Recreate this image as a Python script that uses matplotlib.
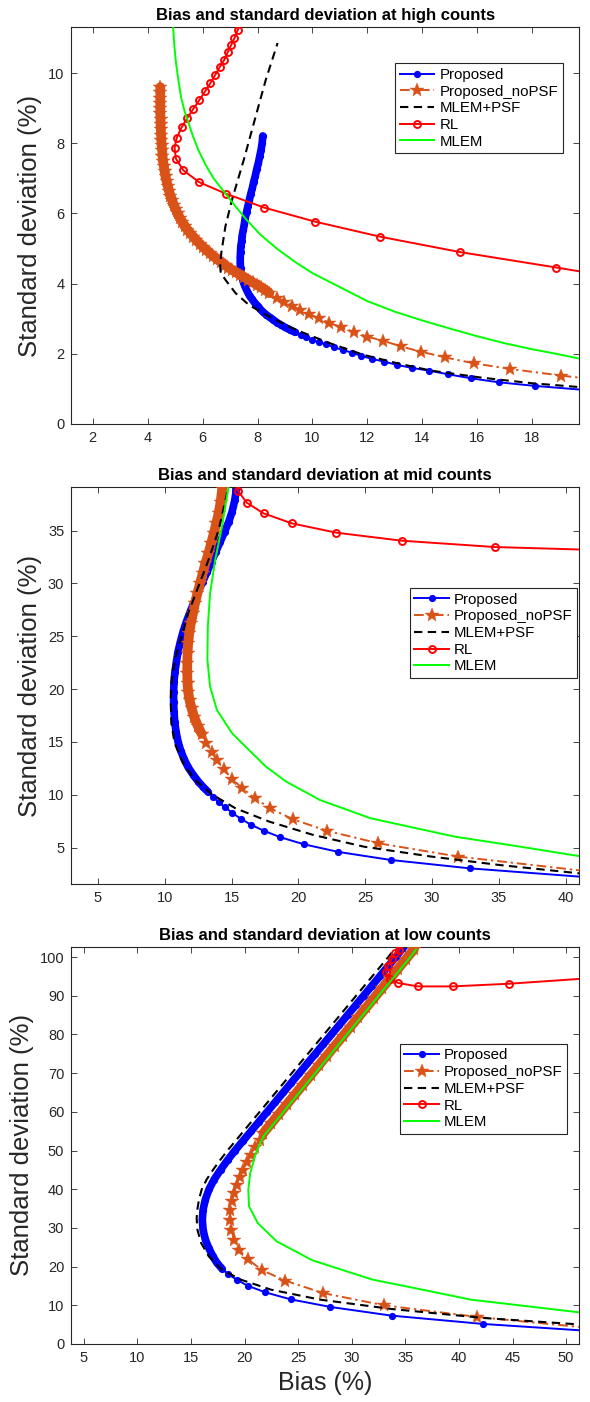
import matplotlib
matplotlib.use('Agg')
import matplotlib.pyplot as plt

plt.rcParams['font.family'] = ['Liberation Sans', 'DejaVu Sans']

# ---- high counts ----
hi_prop_bias = [21.0, 18.11, 16.78, 15.76, 14.94, 14.24, 13.62, 13.09, 12.60, 12.17,
                11.78, 11.43, 11.10, 10.78, 10.51, 10.24, 10.00, 9.78, 9.57, 9.37,
                9.19, 9.01, 8.86, 8.71, 8.57, 8.44, 8.31, 8.20, 8.09, 8.00,
                7.90, 7.81, 7.72, 7.65, 7.59, 7.53, 7.48, 7.44, 7.41, 7.38,
                7.37, 7.37, 7.38, 7.39, 7.42, 7.44, 7.48, 7.52, 7.55, 7.60,
                7.65, 7.70, 7.75, 7.81, 7.86, 7.92, 7.97, 8.03, 8.08, 8.13,
                8.17, 8.19]
hi_prop_std = [0.90, 1.084, 1.188, 1.302, 1.416, 1.521, 1.597, 1.683, 1.778, 1.854,
               1.939, 2.034, 2.110, 2.186, 2.272, 2.329, 2.395, 2.471, 2.538, 2.614,
               2.68, 2.75, 2.82, 2.89, 2.97, 3.04, 3.12, 3.19, 3.28, 3.37,
               3.45, 3.55, 3.64, 3.74, 3.84, 3.94, 4.06, 4.18, 4.32, 4.46,
               4.60, 4.75, 4.90, 5.06, 5.21, 5.37, 5.53, 5.70, 5.87, 6.04,
               6.21, 6.38, 6.55, 6.72, 6.90, 7.08, 7.26, 7.44, 7.63, 7.82,
               8.02, 8.21]
hi_nopsf_bias = [20.5, 19.04, 17.18, 15.87, 14.81, 13.95, 13.22, 12.58, 11.99, 11.50,
                 11.03, 10.60, 10.23, 9.87, 9.56, 9.26, 8.98, 8.70, 8.43,
                 8.27, 8.12, 7.97, 7.82, 7.67, 7.52, 7.37, 7.22, 7.08, 6.94,
                 6.80, 6.66, 6.52, 6.39, 6.26, 6.13, 6.01, 5.89, 5.77, 5.66,
                 5.55, 5.45, 5.35, 5.26, 5.17, 5.09, 5.02, 4.95, 4.89, 4.83,
                 4.78, 4.73, 4.69, 4.65, 4.62, 4.59, 4.56, 4.54, 4.53, 4.51,
                 4.50, 4.49, 4.48, 4.47, 4.47, 4.46, 4.46, 4.46, 4.46, 4.46, 4.46]
hi_nopsf_std = [1.25, 1.38, 1.57, 1.73, 1.90, 2.06, 2.21, 2.37, 2.49, 2.62,
                2.76, 2.89, 3.01, 3.14, 3.25, 3.37, 3.49, 3.60, 3.73,
                3.83, 3.90, 3.97, 4.04, 4.11, 4.18, 4.25, 4.32, 4.39, 4.46,
                4.54, 4.62, 4.70, 4.78, 4.87, 4.96, 5.05, 5.14, 5.24, 5.34,
                5.44, 5.54, 5.65, 5.76, 5.88, 6.00, 6.12, 6.25, 6.38, 6.51,
                6.64, 6.78, 6.92, 7.06, 7.20, 7.35, 7.50, 7.65, 7.80, 7.95,
                8.10, 8.25, 8.40, 8.55, 8.70, 8.85, 9.00, 9.15, 9.30, 9.45, 9.60]
hi_psf_bias = [21.0, 18.0, 16.16, 14.32, 13.09, 11.86, 10.64, 9.41, 8.43, 7.69,
               7.20, 6.83, 6.66, 6.64, 6.68, 6.83, 7.07, 7.50, 7.93, 8.30, 8.73]
hi_psf_std = [0.97, 1.16, 1.32, 1.52, 1.73, 1.97, 2.30, 2.68, 3.06, 3.39,
              3.73, 4.11, 4.31, 4.49, 4.87, 5.63, 6.39, 7.53, 8.76, 9.81, 10.86]
hi_rl_bias = [20.5, 18.87, 15.37, 12.45, 10.08, 8.23, 6.86, 5.88, 5.30, 5.03,
              4.98, 5.06, 5.24, 5.44, 5.66, 5.88, 6.10, 6.28, 6.46, 6.63,
              6.79, 6.92, 7.04, 7.16, 7.28, 7.42]
hi_rl_std = [4.25, 4.46, 4.90, 5.34, 5.77, 6.17, 6.56, 6.89, 7.23, 7.56,
             7.87, 8.16, 8.46, 8.72, 8.98, 9.23, 9.49, 9.71, 9.95, 10.18,
             10.38, 10.61, 10.80, 11.0, 11.23, 11.45]
hi_mlem_bias = [4.92, 4.97, 5.03, 5.12, 5.22, 5.35, 5.48, 5.65, 5.85, 6.1,
                6.4, 6.85, 7.2, 7.6, 8.1, 8.7, 9.4, 10.0, 11.0, 12.0,
                13.0, 14.0, 15.0, 16.0, 17.0, 18.0, 19.0, 19.8]
hi_mlem_std = [11.4, 10.8, 10.3, 9.8, 9.3, 8.9, 8.6, 8.2, 7.8, 7.4,
               7.0, 6.55, 6.2, 5.82, 5.4, 5.0, 4.6, 4.3, 3.9, 3.5,
               3.2, 2.95, 2.72, 2.5, 2.3, 2.13, 1.98, 1.85]

# ---- mid counts ----
mid_prop_bias = [41.5, 32.81, 26.92, 23.0, 20.4, 18.65, 17.39, 16.43, 15.67, 15.04,
                 14.51, 14.03, 13.60, 13.22, 12.89,
                 12.51, 12.13, 11.75, 11.45, 11.19, 10.99, 10.84, 10.74, 10.69, 10.66,
                 10.66, 10.69, 10.76, 10.87, 10.99, 11.17, 11.37, 11.62, 11.90, 12.21,
                 12.51, 12.84, 13.17, 13.50, 13.82, 14.15, 14.48, 14.79, 15.04, 15.24,
                 15.37]
mid_prop_std = [2.21, 3.04, 3.83, 4.59, 5.32, 5.98, 6.61, 7.18, 7.74, 8.31,
                8.82, 9.29, 9.83, 10.30, 10.71,
                11.25, 11.88, 12.6, 13.36, 14.18, 15.03, 15.98, 16.92, 17.87, 18.82,
                19.76, 20.71, 21.66, 22.60, 23.55, 24.50, 25.44, 26.39, 27.33, 28.28,
                29.23, 30.17, 31.12, 32.07, 33.01, 33.96, 34.91, 35.85, 36.80, 37.90,
                39.0]
mid_nopsf_bias = [41.5, 31.98, 25.99, 22.17, 19.59, 17.90, 16.73, 15.80, 15.04, 14.41,
                  13.90, 13.50, 13.12, 12.76, 12.46, 12.21, 12.00, 11.85, 11.75,
                  11.70, 11.68, 11.68, 11.70, 11.75, 11.83, 11.95, 12.11, 12.26, 12.44,
                  12.64, 12.84, 13.04, 13.27, 13.47, 13.67, 13.85, 14.03, 14.18, 14.30]
mid_nopsf_std = [2.78, 4.15, 5.41, 6.58, 7.68, 8.72, 9.67, 10.62, 11.50, 12.41,
                 13.30, 14.09, 14.94, 15.76, 16.55, 17.33, 18.19, 18.97, 19.76,
                 20.55, 21.50, 22.44, 23.39, 24.34, 25.28, 26.23, 27.18, 28.12, 29.07,
                 30.02, 30.96, 31.91, 32.86, 33.80, 34.75, 35.69, 36.64, 37.74, 39.0]
mid_psf_bias = [41.5, 35.01, 29.96, 24.90, 21.11, 17.82, 15.29, 13.52, 12.26, 11.37,
                10.74, 10.49, 10.44, 10.54, 10.82, 11.25, 11.75, 12.51, 13.27, 14.03,
                14.66, 14.85]
mid_psf_std = [2.50, 3.36, 4.15, 5.09, 6.20, 7.46, 8.72, 10.05, 11.40, 12.98,
               14.87, 16.77, 18.97, 21.18, 23.08, 24.97, 27.18, 29.70, 32.22, 35.06,
               38.53, 39.4]
mid_rl_bias = [41.5, 34.71, 27.73, 22.83, 19.51, 17.39, 16.13, 15.47, 15.3]
mid_rl_std = [33.2, 33.45, 34.05, 34.81, 35.69, 36.64, 37.65, 38.79, 40.5]
mid_mlem_bias = [14.79, 14.28, 13.77, 13.39, 13.22, 13.19, 13.39, 13.90, 15.04, 16.30,
                 17.57, 19.08, 21.61, 25.40, 31.7, 36.3, 40.95, 41.5]
mid_mlem_std = [39.3, 35.38, 32.22, 29.07, 25.91, 22.76, 20.24, 18.03, 15.82, 14.24,
                12.67, 11.25, 9.51, 7.78, 6.04, 5.15, 4.21, 4.1]

# ---- low counts ----
low_prop_bias = [52.0, 42.26, 33.71, 28.01, 24.28, 21.92, 20.27, 19.25, 18.48, 17.88, 17.42,
                 17.03, 16.65, 16.33, 16.12, 16.05, 16.12, 16.33, 16.68, 17.15, 17.75,
                 18.4, 19.1, 19.85, 20.6, 21.35, 22.1, 22.85, 23.6, 24.35, 25.1,
                 25.85, 26.6, 27.35, 28.1, 28.85, 29.6, 30.35, 31.1, 31.85, 32.6,
                 33.35, 34.1, 34.9]
low_prop_std = [3.4, 5.17, 7.32, 9.56, 11.54, 13.35, 15.07, 16.62, 18.00, 19.47, 20.93,
                22.65, 24.8, 27.0, 29.5, 32.1, 34.7, 37.3, 40.0, 42.5, 45.0,
                47.5, 50.0, 52.5, 55.0, 57.5, 60.0, 62.5, 65.0, 67.5, 70.0,
                72.5, 75.0, 77.5, 80.0, 82.5, 85.0, 87.5, 90.0, 92.5, 95.0,
                97.5, 100.0, 102.8]
low_nopsf_bias = [52.0, 41.70, 33.01, 27.27, 23.79, 21.64, 20.27, 19.43, 19.04, 18.76,
                  18.62, 18.65, 18.83, 19.00, 19.29, 19.57, 19.85, 20.20, 20.55, 20.97,
                  21.40, 21.75,
                  22.48, 23.22, 23.96, 24.70, 25.44, 26.18, 26.92, 27.66, 28.40, 29.14,
                  29.88, 30.62, 31.36, 32.10, 32.84, 33.58, 34.32, 35.06, 35.8]
low_nopsf_std = [4.2, 6.98, 9.99, 13.18, 16.37, 19.04, 21.96, 24.38, 26.79, 29.37,
                 31.96, 34.54, 36.86, 39.02, 41.0, 43.07, 45.05, 46.94, 48.92, 50.82,
                 52.80, 54.52,
                 57.0, 59.5, 62.0, 64.5, 67.0, 69.5, 72.0, 74.5, 77.0, 79.5,
                 82.0, 84.5, 87.0, 89.5, 92.0, 94.5, 97.0, 99.5, 102.0]
low_psf_bias = [52.0, 42.26, 33.71, 27.03, 22.45, 19.64, 17.88, 16.65, 15.94, 15.59,
                15.52, 15.6, 15.75, 16.0, 16.45, 17.05, 17.7, 18.4, 19.15, 19.9,
                20.65, 21.4, 22.15, 22.9, 23.65, 24.4, 25.15, 25.9, 26.65, 27.4,
                28.15, 28.9, 29.65, 30.4, 31.15, 31.9, 32.65, 33.4, 33.9]
low_psf_std = [4.9, 6.72, 9.04, 11.46, 14.04, 16.62, 19.21, 22.65, 26.10, 29.54,
               32.5, 35.0, 37.5, 40.0, 42.5, 45.0, 47.5, 50.0, 52.5, 55.0,
               57.5, 60.0, 62.5, 65.0, 67.5, 70.0, 72.5, 75.0, 77.5, 80.0,
               82.5, 85.0, 87.5, 90.0, 92.5, 95.0, 97.5, 100.0, 101.8]
low_rl_bias = [52.0, 44.69, 39.41, 36.17, 34.35, 33.54, 33.18, 33.36, 33.71, 34.06, 34.42, 34.8]
low_rl_std = [94.5, 93.11, 92.42, 92.42, 93.28, 94.31, 96.04, 97.76, 99.48, 101.03, 101.9, 104.0]
low_mlem_bias = [36.0, 35.17, 34.28, 33.39, 32.50, 31.62, 30.73, 29.84, 28.95, 28.07,
                 27.18, 26.29, 25.40, 24.51, 23.63, 22.74, 21.75, 21.05, 20.52, 20.34,
                 20.41, 21.22, 22.98, 26.32, 31.95, 35.82, 41.1, 51.2, 52.0]
low_mlem_std = [102, 99, 96, 93, 90, 87, 84, 81, 78, 75,
                72, 69, 66, 63, 60, 57, 53.66, 49.35, 44.19, 39.88,
                35.57, 31.27, 26.53, 21.62, 16.62, 14.47, 11.46, 8.18, 7.92]

labels = ['Proposed', 'Proposed_noPSF', 'MLEM+PSF', 'RL', 'MLEM']
BLUE, ORANGE, RED, GREEN = '#0000ff', '#d95319', '#ff0000', '#00ff00'
INK = '#262626'


def panel(ax, title, curves, dense, xlim, ylim, xticks, yticks, leg_anchor, ylab_x):
    (pb, ps), (nb, ns), (kb, ks), (rb, rs), (gb, gs) = curves
    dp, dn = dense
    # iterations crowd together at the end: draw those stretches as a solid band
    ax.plot(pb[dp:], ps[dp:], color=BLUE, lw=5.5, solid_capstyle='round', zorder=2)
    ax.plot(pb, ps, color=BLUE, lw=1.4, marker='o', ms=5.2, mew=0, label=labels[0], zorder=2)
    ax.plot(nb[dn:], ns[dn:], color=ORANGE, lw=7, solid_capstyle='round', zorder=3)
    ax.plot(nb, ns, color=ORANGE, lw=1.4, dashes=(5, 2, 1.2, 2), marker='*', ms=10,
            mew=0.3, label=labels[1], zorder=3)
    ax.plot(kb, ks, color='black', lw=1.5, dashes=(4, 2.6), label=labels[2], zorder=4)
    ax.plot(rb, rs, color=RED, lw=1.4, marker='o', ms=5, mfc='none', mew=1.4,
            label=labels[3], zorder=5)
    ax.plot(gb, gs, color=GREEN, lw=1.4, label=labels[4], zorder=6)

    ax.set_xlim(*xlim)
    ax.set_ylim(*ylim)
    ax.set_xticks(xticks)
    ax.set_yticks(yticks)
    ax.tick_params(direction='in', top=True, right=True, length=4, width=0.6,
                   color=INK, labelcolor=INK, labelsize=10.5, pad=5)
    for s in ax.spines.values():
        s.set_color(INK)
        s.set_linewidth(0.8)
    ax.set_title(title, fontsize=12, fontweight='bold', pad=5)
    ax.set_ylabel('Standard deviation (%)', fontsize=18.5, color=INK)
    ax.yaxis.set_label_coords(ylab_x, 0.5)
    leg = ax.legend(loc='upper left', bbox_to_anchor=leg_anchor, borderaxespad=0,
                    fontsize=10.8, numpoints=1, handlelength=2.3, handletextpad=0.35,
                    labelspacing=0.18, borderpad=0.3, fancybox=False, framealpha=1,
                    edgecolor=INK)
    leg.get_frame().set_linewidth(0.8)


fig = plt.figure(figsize=(5.9, 14.02), dpi=100)
left, width = 0.1208, 0.8605

ax1 = fig.add_axes([left, 0.6976, width, 0.2830])
panel(ax1, 'Bias and standard deviation at high counts',
      [(hi_prop_bias, hi_prop_std), (hi_nopsf_bias, hi_nopsf_std),
       (hi_psf_bias, hi_psf_std), (hi_rl_bias, hi_rl_std), (hi_mlem_bias, hi_mlem_std)],
      (19, 18), (1.22, 19.7), (0, 11.31), range(2, 19, 2), range(0, 11, 2),
      (0.638, 0.909), -0.058)

ax2 = fig.add_axes([left, 0.3695, width, 0.2832])
panel(ax2, 'Bias and standard deviation at mid counts',
      [(mid_prop_bias, mid_prop_std), (mid_nopsf_bias, mid_nopsf_std),
       (mid_psf_bias, mid_psf_std), (mid_rl_bias, mid_rl_std), (mid_mlem_bias, mid_mlem_std)],
      (13, 13), (3.0, 41.0), (1.56, 39.14), range(5, 41, 5), range(5, 36, 5),
      (0.667, 0.745), -0.058)

ax3 = fig.add_axes([left, 0.0414, width, 0.2834])
panel(ax3, 'Bias and standard deviation at low counts',
      [(low_prop_bias, low_prop_std), (low_nopsf_bias, low_nopsf_std),
       (low_psf_bias, low_psf_std), (low_rl_bias, low_rl_std), (low_mlem_bias, low_mlem_std)],
      (9, 21), (3.82, 51.2), (0, 102.7), range(5, 51, 5), range(0, 101, 10),
      (0.647, 0.755), -0.074)
ax3.set_xlabel('Bias (%)', fontsize=18, color=INK)
ax3.xaxis.set_label_coords(0.5, -0.068)

fig.savefig('out.png', dpi=100)
